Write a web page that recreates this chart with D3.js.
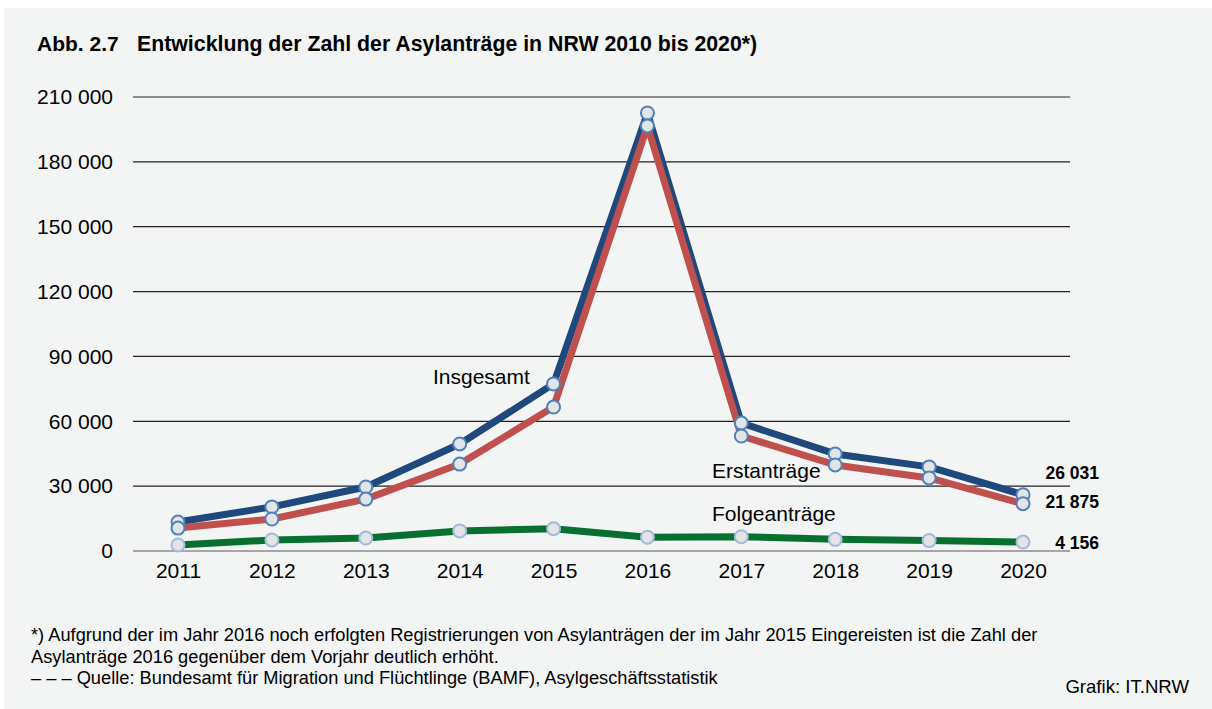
<!DOCTYPE html>
<html>
<head>
<meta charset="utf-8">
<script src="https://cdn.jsdelivr.net/npm/d3@7"></script>
<style>
body{margin:0;background:#fff;}
svg{display:block;font-family:"Liberation Sans",Arial,sans-serif;}
</style>
</head>
<body>
<svg id="chart" width="1212" height="709"></svg>
<script>
// Jahre und Werte
var years = [2011,2012,2013,2014,2015,2016,2017,2018,2019,2020];
var insgesamt = [13400,20400,29600,49500,77300,202600,59200,44900,38900,26031];
var erstantraege = [10600,14800,24000,40200,66600,196600,53200,39800,33800,21875];
var folgeantraege = [2800,5100,6000,9300,10300,6400,6600,5400,4800,4156];
var yTicks = [0,30000,60000,90000,120000,150000,180000,210000];

var svg = d3.select("#chart");

svg.append("rect").attr("x",4).attr("y",8).attr("width",1208).attr("height",701).style("fill","#f3f4f4");

svg.append("text").attr("x",37).attr("y",51)
  .style("font-size","21px").style("font-weight","bold").style("fill","#000")
  .text("Abb. 2.7");
svg.append("text").attr("x",137).attr("y",51)
  .style("font-size","21.3px").style("font-weight","bold").style("fill","#000")
  .text("Entwicklung der Zahl der Asylanträge in NRW 2010 bis 2020*)");

var x = d3.scalePoint().domain(years).range([178,1023]);
var y = d3.scaleLinear().domain([0,210000]).range([551,97]);

var fmt = function(v){ return d3.format(",")(v).replace(/,/g," "); };

// gitterlinien
var grid = svg.append("g");
grid.selectAll("line").data(yTicks).enter().append("line")
  .attr("x1",133).attr("x2",1070)
  .attr("y1",function(d){return y(d);}).attr("y2",function(d){return y(d);})
  .style("stroke",function(d){return d==0 ? "#a6a6a6" : "#222";})
  .style("stroke-width",function(d){return d==0 ? 2 : 1.2;});

// y achse
var yAxis = svg.append("g").attr("transform","translate(113,0)")
  .call(d3.axisLeft(y).tickValues(yTicks).tickSize(0).tickPadding(0).tickFormat(fmt));
yAxis.select(".domain").remove();
yAxis.selectAll("text").style("font-size","21px").style("fill","#000")
  .style("font-family","Liberation Sans, Arial, sans-serif");

// x achse
var xAxis = svg.append("g").attr("transform","translate(0,563)")
  .call(d3.axisBottom(x).tickSize(0).tickPadding(0).tickFormat(d3.format("d")));
xAxis.select(".domain").remove();
xAxis.selectAll("text").attr("dy","0.71em").style("font-size","21px").style("fill","#000")
  .style("font-family","Liberation Sans, Arial, sans-serif");

var line = d3.line().x(function(d,i){return x(years[i]);}).y(function(d){return y(d);});

var series = [
  {name:"Folge", values:folgeantraege, color:"#08702f", mk:"#a3b9dc"},
  {name:"Insg", values:insgesamt, color:"#1f487c", mk:"#4f81bd"},
  {name:"Erst", values:erstantraege, color:"#c0504d", mk:"#4f81bd"}
];

series.forEach(function(s){
  svg.append("path").datum(s.values).attr("d",line)
    .style("fill","none").style("stroke",s.color).style("stroke-width",7)
    .style("stroke-linejoin","round");
});
series.forEach(function(s){
  svg.append("g").selectAll("circle").data(s.values).enter().append("circle")
    .attr("cx",function(d,i){return x(years[i]);})
    .attr("cy",function(d){return y(d);})
    .attr("r",6.5)
    .style("fill","#e3e4e6").style("stroke",s.mk).style("stroke-width",2);
});

// beschriftungen
var lab = [
  {t:"Insgesamt", x:433, y:384},
  {t:"Erstanträge", x:712, y:478},
  {t:"Folgeanträge", x:712, y:521}
];
svg.selectAll(".lbl").data(lab).enter().append("text").attr("class","lbl")
  .attr("x",function(d){return d.x;}).attr("y",function(d){return d.y;})
  .style("font-size","21px").style("fill","#000").text(function(d){return d.t;});

var ends = [
  {v:insgesamt[9], y:479},
  {v:erstantraege[9], y:508},
  {v:folgeantraege[9], y:549}
];
svg.selectAll(".end").data(ends).enter().append("text").attr("class","end")
  .attr("x",1099).attr("y",function(d){return d.y;})
  .attr("text-anchor","end")
  .style("font-size","17.5px").style("font-weight","bold").style("fill","#000")
  .text(function(d){return fmt(d.v);});

// fussnote
var notes = [
  "*) Aufgrund der im Jahr 2016 noch erfolgten Registrierungen von Asylanträgen der im Jahr 2015 Eingereisten ist die Zahl der",
  "Asylanträge 2016 gegenüber dem Vorjahr deutlich erhöht.",
  "– – – Quelle: Bundesamt für Migration und Flüchtlinge (BAMF), Asylgeschäftsstatistik"
];
svg.selectAll(".note").data(notes).enter().append("text").attr("class","note")
  .attr("x",31).attr("y",function(d,i){return 641+i*21.5;})
  .style("font-size","18.25px").style("fill","#000").text(function(d){return d;});

svg.append("text").attr("x",1189).attr("y",693).attr("text-anchor","end")
  .style("font-size","18.6px").style("fill","#000").text("Grafik: IT.NRW");
</script>
</body>
</html>
